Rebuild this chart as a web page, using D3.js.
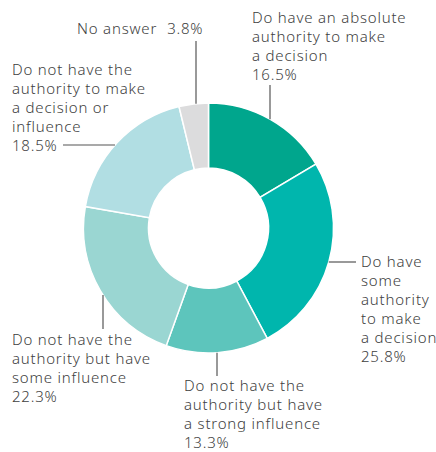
<!DOCTYPE html>
<html><head><meta charset="utf-8">
<script src="https://cdn.jsdelivr.net/npm/d3@7"></script>
<style>body{margin:0;background:#fff}svg{display:block}</style>
</head><body>
<svg id="c" width="436" height="452"></svg>
<script>
const categories = ["Do have an absolute authority to make a decision","Do have some authority to make a decision","Do not have the authority but have a strong influence","Do not have the authority but have some influence","Do not have the authority to make a decision or influence","No answer"];
const values = [16.5, 25.8, 13.3, 22.3, 18.5, 3.8];
const colors = ["#00a68d","#00b6ad","#5dc5bc","#9ad6d2","#b1dee3","#dcdcdd"];
const labelLines = [
  ["Do have an absolute","authority to make","a decision","16.5%"],
  ["Do have","some","authority","to make","a decision","25.8%"],
  ["Do not have the","authority but have","a strong influence","13.3%"],
  ["Do not have the","authority but have","some influence","22.3%"],
  ["Do not have the","authority to make","a decision or","influence","18.5%"],
  [["No answer","3.8%"]]
];
const layout = [
  {tx:252, ty:23, lead:{dir:"v", x:270, y0:85}},
  {tx:361, ty:267, lead:{dir:"h", y:262, x0:356}},
  {tx:184, ty:391, lead:{dir:"v", x:217, y0:376}},
  {tx:12, ty:345, lead:{dir:"v", x:103, y0:329}},
  {tx:12, ty:75, lead:{dir:"h", y:145, x0:63}},
  {tx:77, ty:34, lead:{dir:"v", x:196, y0:41}}
];
const cx = 208.5, cy = 228, R = 125, r = 60, lh = 19;
const svg = d3.select("#c");
const g = svg.append("g").attr("transform", `translate(${cx},${cy})`);
const pie = d3.pie().sort(null).value(d => d);
const arc = d3.arc().innerRadius(r).outerRadius(R);
g.selectAll("path").data(pie(values)).join("path")
  .attr("d", arc).attr("fill", (d,i) => colors[i])
  .attr("stroke", "#fff").attr("stroke-width", 1.5);

layout.forEach((L, i) => {
  const ld = L.lead;
  let x1,y1,x2,y2;
  if (ld.dir === "v") {
    const dx = ld.x - cx;
    const dy = Math.sqrt(R*R - dx*dx);
    x1 = x2 = ld.x; y1 = ld.y0;
    y2 = ld.y0 < cy ? cy - dy : cy + dy;
  } else {
    const dy = ld.y - cy;
    const dx = Math.sqrt(R*R - dy*dy);
    y1 = y2 = ld.y; x1 = ld.x0;
    x2 = ld.x0 < cx ? cx - dx : cx + dx;
  }
  svg.append("line").attr("x1",x1).attr("y1",y1).attr("x2",x2).attr("y2",y2)
    .attr("stroke","#555").attr("stroke-width",1.2);
  const t = svg.append("text").attr("x", L.tx).attr("y", L.ty)
    .attr("font-family","'Noto Sans', sans-serif").attr("font-size",15)
    .attr("font-weight",300).attr("letter-spacing",0.8).attr("fill","#404040");
  labelLines[i].forEach((s, k) => {
    if (Array.isArray(s)) {
      t.append("tspan").attr("x", L.tx).attr("y", L.ty + k*lh).text(s[0]);
      t.append("tspan").attr("dx", 10).text(s[1]);
    } else {
      t.append("tspan").attr("x", L.tx).attr("y", L.ty + k*lh).text(s);
    }
  });
});
</script>
</body></html>
